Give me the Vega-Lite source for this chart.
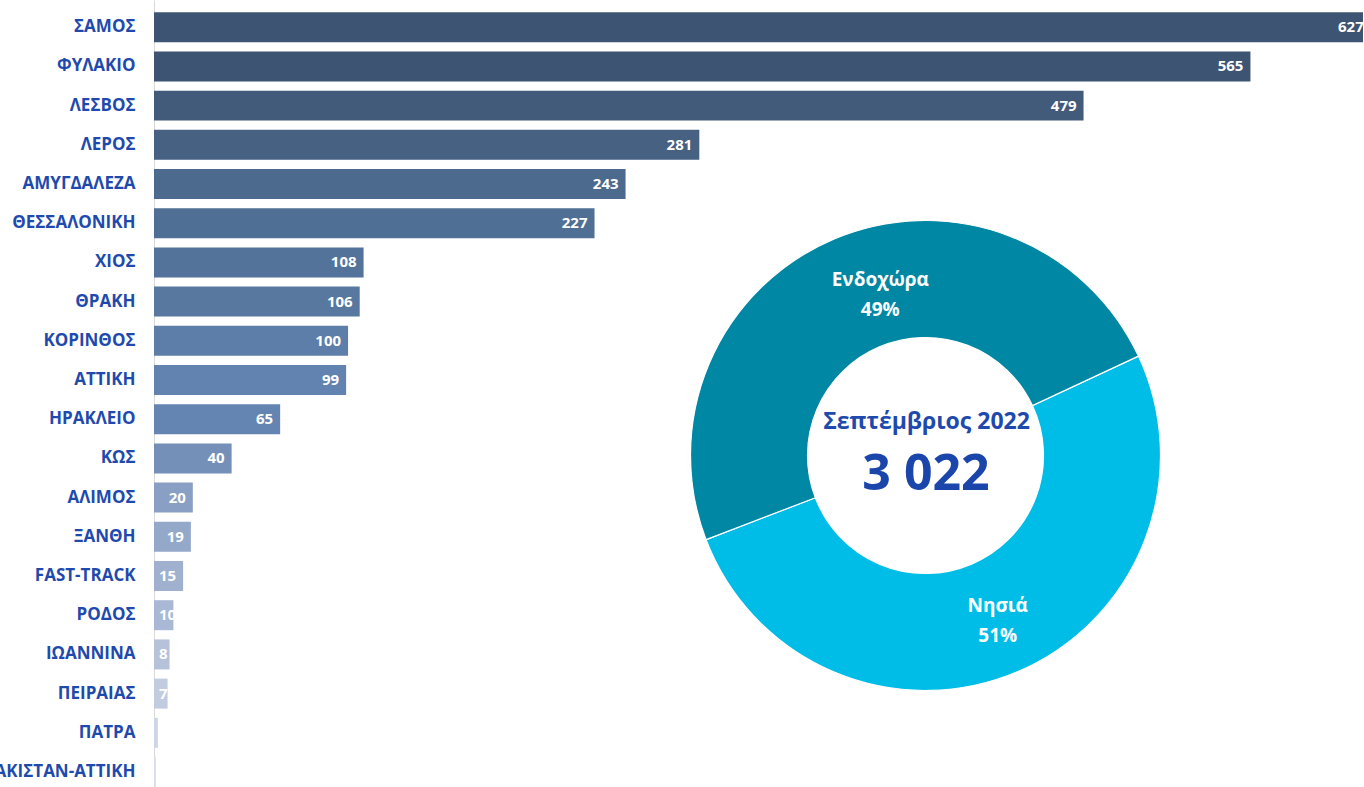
{
  "$schema": "https://vega.github.io/schema/vega-lite/v6.json",
  "autosize": "none",
  "width": 1209,
  "height": 787,
  "padding": {"left": 154, "top": 0, "right": 1, "bottom": 0},
  "background": "white",
  "config": {"view": {"stroke": null}, "font": "Open Sans"},
  "datasets": {
    "bars": [
      {"site": "ΣΑΜΟΣ", "count": 627},
      {"site": "ΦΥΛΑΚΙΟ", "count": 565},
      {"site": "ΛΕΣΒΟΣ", "count": 479},
      {"site": "ΛΕΡΟΣ", "count": 281},
      {"site": "ΑΜΥΓΔΑΛΕΖΑ", "count": 243},
      {"site": "ΘΕΣΣΑΛΟΝΙΚΗ", "count": 227},
      {"site": "ΧΙΟΣ", "count": 108},
      {"site": "ΘΡΑΚΗ", "count": 106},
      {"site": "ΚΟΡΙΝΘΟΣ", "count": 100},
      {"site": "ΑΤΤΙΚΗ", "count": 99},
      {"site": "ΗΡΑΚΛΕΙΟ", "count": 65},
      {"site": "ΚΩΣ", "count": 40},
      {"site": "ΑΛΙΜΟΣ", "count": 20},
      {"site": "ΞΑΝΘΗ", "count": 19},
      {"site": "FAST-TRACK", "count": 15},
      {"site": "ΡΟΔΟΣ", "count": 10},
      {"site": "ΙΩΑΝΝΙΝΑ", "count": 8},
      {"site": "ΠΕΙΡΑΙΑΣ", "count": 7},
      {"site": "ΠΑΤΡΑ", "count": 2},
      {"site": "ΠΑΚΙΣΤΑΝ-ΑΤΤΙΚΗ", "count": 1}
    ],
    "donut": [
      {"group": "Νησιά", "count": 1545, "ord": 1, "label": "Νησιά\n51%"},
      {"group": "Ενδοχώρα", "count": 1477, "ord": 2, "label": "Ενδοχώρα\n49%"}
    ],
    "center": [
      {"title": "Σεπτέμβριος 2022", "total": "3 022"}
    ]
  },
  "layer": [
    {
      "data": {"name": "bars"},
      "encoding": {
        "y": {
          "field": "site", "type": "nominal", "sort": null,
          "scale": {
            "domain": ["ΣΑΜΟΣ","ΦΥΛΑΚΙΟ","ΛΕΣΒΟΣ","ΛΕΡΟΣ","ΑΜΥΓΔΑΛΕΖΑ","ΘΕΣΣΑΛΟΝΙΚΗ","ΧΙΟΣ","ΘΡΑΚΗ","ΚΟΡΙΝΘΟΣ","ΑΤΤΙΚΗ","ΗΡΑΚΛΕΙΟ","ΚΩΣ","ΑΛΙΜΟΣ","ΞΑΝΘΗ","FAST-TRACK","ΡΟΔΟΣ","ΙΩΑΝΝΙΝΑ","ΠΕΙΡΑΙΑΣ","ΠΑΤΡΑ","ΠΑΚΙΣΤΑΝ-ΑΤΤΙΚΗ"],
            "paddingInner": 0.235, "paddingOuter": 0.156, "align": 1
          },
          "axis": {
            "title": null, "ticks": false, "tickSize": 0, "labelPadding": 19,
            "labelFont": "Open Sans", "labelFontSize": 17, "labelFontWeight": "bold",
            "labelColor": "#1f4aad", "domainColor": "#d9d9d9", "domainWidth": 1,
            "grid": false, "labelLimit": 300
          }
        }
      },
      "layer": [
        {
          "mark": {"type": "bar", "clip": true},
          "encoding": {
            "x": {"field": "count", "type": "quantitative", "scale": {"domain": [0, 623], "nice": false, "zero": true}, "axis": null},
            "color": {
              "field": "site", "type": "nominal", "legend": null,
              "scale": {
                "domain": ["ΣΑΜΟΣ","ΦΥΛΑΚΙΟ","ΛΕΣΒΟΣ","ΛΕΡΟΣ","ΑΜΥΓΔΑΛΕΖΑ","ΘΕΣΣΑΛΟΝΙΚΗ","ΧΙΟΣ","ΘΡΑΚΗ","ΚΟΡΙΝΘΟΣ","ΑΤΤΙΚΗ","ΗΡΑΚΛΕΙΟ","ΚΩΣ","ΑΛΙΜΟΣ","ΞΑΝΘΗ","FAST-TRACK","ΡΟΔΟΣ","ΙΩΑΝΝΙΝΑ","ΠΕΙΡΑΙΑΣ","ΠΑΤΡΑ","ΠΑΚΙΣΤΑΝ-ΑΤΤΙΚΗ"],
                "range": ["#3d5472","#3d5472","#425b7b","#476183","#4c6a8e","#506f95","#54739a","#5878a0","#5d7ea8","#6283af","#6485b1","#7590b8","#8a9fc4","#94a8ca","#a0b1d0","#a9b8d5","#b5c2da","#c2cce0","#cdd5e6","#d8deeb"]
              }
            }
          }
        },
        {
          "transform": [{"filter": "datum.count >= 15"}],
          "mark": {"type": "text", "align": "right", "baseline": "middle", "dx": -7, "color": "white", "font": "Open Sans", "fontWeight": "bold", "fontSize": 15, "clip": true},
          "encoding": {
            "x": {"field": "count", "type": "quantitative"},
            "text": {"field": "count", "type": "quantitative"}
          }
        },
        {
          "transform": [{"filter": "datum.count < 15"}],
          "mark": {"type": "text", "align": "left", "baseline": "middle", "dx": 5, "color": "white", "font": "Open Sans", "fontWeight": "bold", "fontSize": 15},
          "encoding": {
            "x": {"datum": 0, "type": "quantitative"},
            "text": {"field": "count", "type": "quantitative"}
          }
        }
      ]
    },
    {
      "data": {"name": "donut"},
      "encoding": {
        "theta": {"field": "count", "type": "quantitative", "stack": true, "scale": {"range": [1.134, 7.4172]}},
        "order": {"field": "ord", "type": "quantitative"}
      },
      "layer": [
        {
          "mark": {"type": "arc", "innerRadius": 118, "outerRadius": 235, "x": 771.5, "y": 455.5, "stroke": "white", "strokeWidth": 1.2},
          "encoding": {
            "color": {"field": "group", "type": "nominal", "legend": null, "scale": {"domain": ["Νησιά", "Ενδοχώρα"], "range": ["#00bde8", "#0087a4"]}}
          }
        },
        {
          "mark": {"type": "text", "x": 771.5, "y": 455.5, "radius": 172, "dx": 22, "dy": -17, "align": "center", "baseline": "middle", "lineBreak": "\n", "lineHeight": 30, "color": "white", "font": "Open Sans", "fontWeight": "bold", "fontSize": 19},
          "encoding": {"text": {"condition": {"test": "datum.group == 'Ενδοχώρα'", "field": "label"}, "value": ""}}
        },
        {
          "mark": {"type": "text", "x": 771.5, "y": 455.5, "radius": 172, "dx": 5, "dy": -8, "align": "center", "baseline": "middle", "lineBreak": "\n", "lineHeight": 30, "color": "white", "font": "Open Sans", "fontWeight": "bold", "fontSize": 19},
          "encoding": {"text": {"condition": {"test": "datum.group == 'Νησιά'", "field": "label"}, "value": ""}}
        }
      ]
    },
    {
      "data": {"name": "center"},
      "layer": [
        {
          "mark": {"type": "text", "x": 772.5, "y": 429, "align": "center", "baseline": "alphabetic", "color": "#1f4aad", "font": "Open Sans", "fontWeight": "bold", "fontSize": 23},
          "encoding": {"text": {"field": "title"}}
        },
        {
          "mark": {"type": "text", "x": 772, "y": 490, "align": "center", "baseline": "alphabetic", "color": "#1a46ab", "font": "Open Sans", "fontWeight": "bold", "fontSize": 50},
          "encoding": {"text": {"field": "total"}}
        }
      ]
    }
  ],
  "resolve": {"scale": {"x": "independent", "y": "independent", "color": "independent", "theta": "independent"}}
}
